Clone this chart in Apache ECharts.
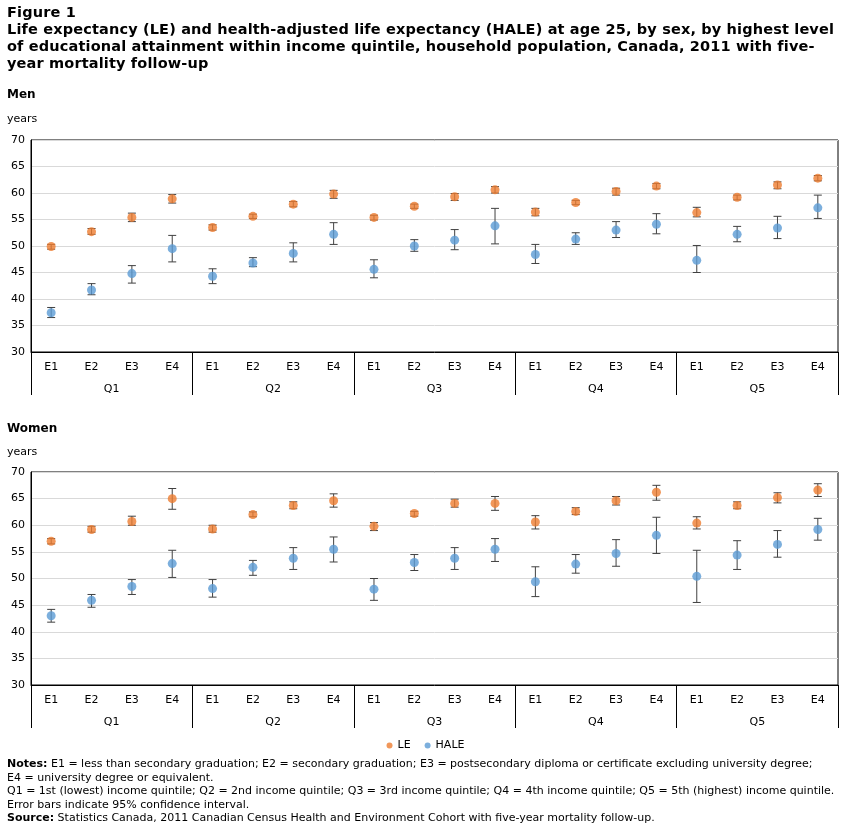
<!DOCTYPE html>
<html>
<head>
<meta charset="utf-8">
<script src="https://cdn.jsdelivr.net/npm/echarts@6/dist/echarts.min.js"></script>
<style>
  body { margin: 0; background: #fff; font-family: "DejaVu Sans", Verdana, sans-serif; }
  #head { position: absolute; left: 7px; top: 4px; width: 836px; font-size: 14.5px; font-weight: bold; line-height: 17px; color: #000; letter-spacing: 0.15px; }
  #chart { position: absolute; left: 0; top: 0; width: 851px; height: 824px; }
  #notes { position: absolute; left: 7px; top: 757px; width: 830px; font-size: 11px; line-height: 13.5px; color: #000; }
</style>
</head>
<body>
<div id="chart"></div>
<div id="head">Figure 1<br>Life expectancy (LE) and health-adjusted life expectancy (HALE) at age 25, by sex, by highest level<br>of educational attainment within income quintile, household population, Canada, 2011 with five-year mortality follow-up</div>
<div id="notes"><b>Notes:</b> E1 = less than secondary graduation; E2 = secondary graduation; E3 = postsecondary diploma or certificate excluding university degree;<br>E4 = university degree or equivalent.<br>Q1 = 1st (lowest) income quintile; Q2 = 2nd income quintile; Q3 = 3rd income quintile; Q4 = 4th income quintile; Q5 = 5th (highest) income quintile.<br>Error bars indicate 95% confidence interval.<br><b>Source:</b> Statistics Canada, 2011 Canadian Census Health and Environment Cohort with five-year mortality follow-up.</div>
<script>
var educ = ['E1', 'E2', 'E3', 'E4'];
var quintiles = ['Q1', 'Q2', 'Q3', 'Q4', 'Q5'];
var yTicks = [30, 35, 40, 45, 50, 55, 60, 65, 70];

// [value, lower, upper]
var menLE = [
  [49.9, 49.4, 50.3], [52.7, 52.2, 53.3], [55.4, 54.6, 56.2], [58.9, 58.1, 59.7],
  [53.5, 53.0, 54.0], [55.6, 55.2, 56.0], [57.9, 57.4, 58.4], [59.8, 59.0, 60.5],
  [55.4, 54.9, 55.8], [57.5, 57.1, 57.9], [59.3, 58.6, 59.9], [60.6, 60.0, 61.2],
  [56.4, 55.7, 57.1], [58.2, 57.8, 58.6], [60.3, 59.6, 60.9], [61.3, 60.8, 61.8],
  [56.3, 55.5, 57.3], [59.2, 58.7, 59.6], [61.5, 60.8, 62.1], [62.8, 62.3, 63.3]
];
var menHALE = [
  [37.4, 36.5, 38.4], [41.7, 40.8, 42.9], [44.8, 43.0, 46.3], [49.5, 47.0, 52.0],
  [44.3, 42.9, 45.7], [46.8, 46.1, 47.8], [48.6, 47.0, 50.6], [52.2, 50.3, 54.4],
  [45.6, 44.0, 47.4], [50.0, 49.0, 51.2], [51.1, 49.3, 53.1], [53.8, 50.4, 57.1],
  [48.4, 46.7, 50.3], [51.3, 50.3, 52.5], [53.0, 51.6, 54.6], [54.1, 52.3, 56.1],
  [47.3, 45.0, 50.1], [52.2, 50.8, 53.7], [53.4, 51.4, 55.6], [57.2, 55.2, 59.6]
];
var womenLE = [
  [57.0, 56.5, 57.5], [59.2, 58.7, 59.8], [60.7, 60.0, 61.7], [65.0, 63.0, 66.9],
  [59.3, 58.7, 60.0], [62.0, 61.6, 62.5], [63.7, 63.1, 64.4], [64.6, 63.4, 65.9],
  [59.8, 59.0, 60.5], [62.2, 61.7, 62.6], [64.1, 63.4, 64.9], [64.1, 62.8, 65.4],
  [60.6, 59.3, 61.8], [62.6, 62.0, 63.3], [64.6, 63.8, 65.4], [66.2, 64.7, 67.5],
  [60.4, 59.3, 61.6], [63.7, 63.1, 64.4], [65.2, 64.2, 66.1], [66.6, 65.4, 67.8]
];
var womenHALE = [
  [43.0, 41.8, 44.2], [45.9, 44.6, 47.0], [48.5, 47.0, 49.8], [52.8, 50.2, 55.3],
  [48.1, 46.5, 49.8], [52.1, 50.6, 53.4], [53.8, 51.7, 55.8], [55.5, 53.1, 57.8],
  [48.0, 45.9, 50.0], [53.0, 51.5, 54.5], [53.8, 51.7, 55.8], [55.5, 53.2, 57.5],
  [49.4, 46.6, 52.2], [52.7, 51.0, 54.5], [54.7, 52.3, 57.3], [58.1, 54.7, 61.5],
  [50.4, 45.5, 55.3], [54.4, 51.7, 57.1], [56.4, 54.0, 59.0], [59.2, 57.2, 61.3]
];

var FONT = 'DejaVu Sans';
var ORANGE = '#ed7d31', BLUE = '#5b9bd5';

var cats = [];
quintiles.forEach(function(q) { educ.forEach(function(e) { cats.push(q + e); }); });

function errSeries(data, gi) {
  return {
    type: 'custom', xAxisIndex: gi * 2, yAxisIndex: gi, silent: true, z: 2,
    data: data.map(function(d, i) { return [i, d[1], d[2]]; }),
    renderItem: function(params, api) {
      var lo = api.coord([api.value(0), api.value(1)]);
      var hi = api.coord([api.value(0), api.value(2)]);
      var w = 4;
      var st = { stroke: '#404040', lineWidth: 1 };
      return { type: 'group', children: [
        { type: 'line', shape: { x1: lo[0], y1: lo[1], x2: hi[0], y2: hi[1] }, style: st },
        { type: 'line', shape: { x1: lo[0] - w, y1: lo[1], x2: lo[0] + w, y2: lo[1] }, style: st },
        { type: 'line', shape: { x1: hi[0] - w, y1: hi[1], x2: hi[0] + w, y2: hi[1] }, style: st }
      ] };
    }
  };
}

function pointSeries(name, data, gi, color) {
  return {
    name: name, type: 'scatter', xAxisIndex: gi * 2, yAxisIndex: gi, z: 3,
    symbolSize: 9, itemStyle: { color: color },
    data: data.map(function(d, i) { return [i, d[0]]; })
  };
}

var grids = [
  { left: 31, right: 13, top: 140, height: 212 },
  { left: 31, right: 13, top: 472, height: 213 }
];

var xAxes = [], yAxes = [];
grids.forEach(function(g, gi) {
  xAxes.push({
    type: 'category', gridIndex: gi, data: cats, position: 'bottom',
    axisLine: { lineStyle: { color: '#000' } }, axisTick: { show: false },
    axisLabel: { formatter: function(v) { return v.slice(2); }, color: '#000', fontFamily: FONT, fontSize: 11, margin: 10 }
  });
  xAxes.push({
    type: 'category', gridIndex: gi, data: quintiles, position: 'bottom',
    axisLine: { show: false },
    axisTick: { show: true, length: 43, interval: 0, lineStyle: { color: '#000' } },
    axisLabel: { color: '#000', fontFamily: FONT, fontSize: 11, margin: 32 }
  });
  yAxes.push({
    type: 'value', gridIndex: gi, min: 30, max: 70, interval: 5,
    axisLine: { show: true, lineStyle: { color: '#000' } }, axisTick: { show: false },
    splitLine: { lineStyle: { color: '#d9d9d9' } },
    axisLabel: { color: '#000', fontFamily: FONT, fontSize: 11, margin: 6,
      formatter: function(v) { return yTicks.indexOf(v) >= 0 ? String(v) : ''; } }
  });
});

var chart = echarts.init(document.getElementById('chart'));
chart.setOption({
  animation: false,
  textStyle: { fontFamily: FONT },
  grid: grids.map(function(g) { return Object.assign({ show: true, borderColor: '#000', borderWidth: 1 }, g); }),
  graphic: [
    { type: 'text', left: 7, top: 89, style: { text: 'Men', font: 'bold 12px ' + FONT, fill: '#000' } },
    { type: 'text', left: 7, top: 114, style: { text: 'years', font: '11px ' + FONT, fill: '#000' } },
    { type: 'text', left: 7, top: 423, style: { text: 'Women', font: 'bold 12px ' + FONT, fill: '#000' } },
    { type: 'text', left: 7, top: 447, style: { text: 'years', font: '11px ' + FONT, fill: '#000' } },
    { type: 'line', shape: { x1: 31.5, y1: 352, x2: 31.5, y2: 395 }, style: { stroke: '#000' } },
    { type: 'line', shape: { x1: 31.5, y1: 685, x2: 31.5, y2: 728 }, style: { stroke: '#000' } }
  ],
  legend: {
    top: 735, left: 'center', itemWidth: 6, itemHeight: 6, itemGap: 14,
    textStyle: { fontSize: 11, color: '#000', fontFamily: FONT },
    data: [{ name: 'LE', icon: 'circle' }, { name: 'HALE', icon: 'circle' }]
  },
  xAxis: xAxes,
  yAxis: yAxes,
  series: [
    errSeries(menLE, 0), errSeries(menHALE, 0),
    pointSeries('LE', menLE, 0, ORANGE), pointSeries('HALE', menHALE, 0, BLUE),
    errSeries(womenLE, 1), errSeries(womenHALE, 1),
    pointSeries('LE', womenLE, 1, ORANGE), pointSeries('HALE', womenHALE, 1, BLUE)
  ]
});
</script>
</body>
</html>
